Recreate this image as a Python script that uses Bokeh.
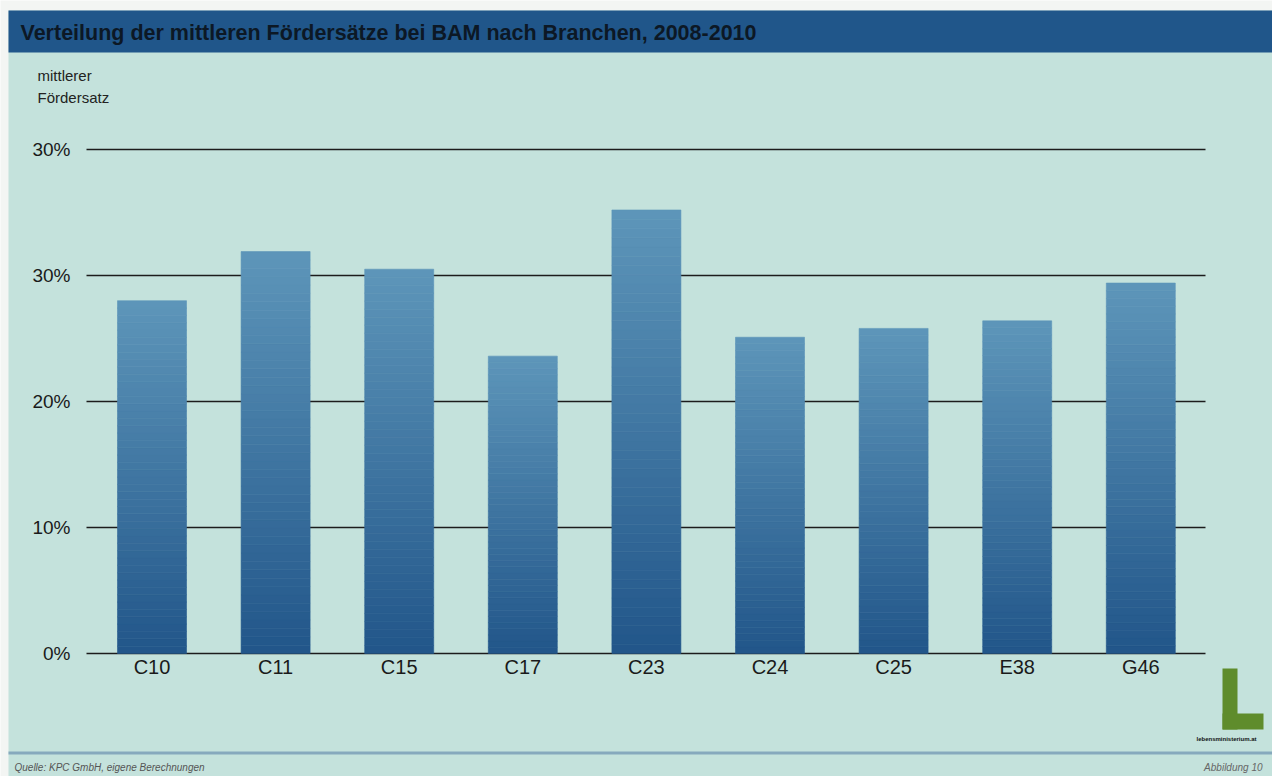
import numpy as np
from bokeh.plotting import figure
from bokeh.models import Range1d, Label, BoxAnnotation, ColumnDataSource
from bokeh.core.properties import value
from bokeh.embed import file_html
from bokeh.resources import INLINE

# ---- data ----
categories = ["C10", "C11", "C15", "C17", "C23", "C24", "C25", "E38", "G46"]
values = [28.0, 31.9, 30.5, 23.6, 35.2, 25.1, 25.8, 26.4, 29.4]
tick_values = [0, 10, 20, 30, 40]
tick_labels = ["0%", "10%", "20%", "30%", "30%"]
title_text = "Verteilung der mittleren Fördersätze bei BAM nach Branchen, 2008-2010"
ylabel_lines = ["mittlerer", "Fördersatz"]
source_text = "Quelle: KPC GmbH, eigene Berechnungen"
figure_text = "Abbildung 10"
logo_text = "lebensministerium.at"

# ---- style / layout ----
BG = "#c4e2dc"
PAGE = "#f3f5f3"
BAR_TOP = np.array([0x5e, 0x96, 0xba])
BAR_BOTTOM = np.array([0x22, 0x56, 0x8a])
FONT = "Liberation Sans"
N_SLICES = 48
W, H = 1272, 776
CX0, DX = 151.5, 123.6       # canvas x of first category centre, spacing
CY0, PPU = 653.0, 12.6       # canvas y of 0 %, pixels per percentage point

p = figure(width=W, height=H, output_backend="svg", toolbar_location=None,
           x_range=Range1d(-CX0 / DX, (W - CX0) / DX),
           y_range=Range1d(-(H - CY0) / PPU, CY0 / PPU), min_border=0)
p.axis.visible = False
p.grid.visible = False
p.background_fill_color = PAGE
p.border_fill_color = PAGE
p.outline_line_color = None


def dx(cx):
    return (cx - CX0) / DX


def dy(cy):
    return (CY0 - cy) / PPU


def box(l, r, t, b, color, level="annotation"):
    p.add_layout(BoxAnnotation(left=l, right=r, top=H - t, bottom=H - b,
                               left_units="screen", right_units="screen",
                               top_units="screen", bottom_units="screen",
                               fill_color=color, fill_alpha=1, line_color=None,
                               level=level))


def label(cx, cy, text, size, color, style="normal", align="left"):
    p.add_layout(Label(x=cx, y=H - cy, x_units="screen", y_units="screen", text=text,
                       text_font=FONT, text_font_style=style, text_font_size=size,
                       text_color=color, text_baseline="middle", text_align=align))


# page panel, title bar, footer rule
box(8, W, 10, H, BG, level="image")
box(8, W, 10, 52, "#20568a")
box(8, W, 751, 754, "#86a9bd")

idx = list(range(len(categories)))

# horizontal grid lines at the ticks
p.segment(x0=dx(86), x1=dx(1205), y0=tick_values, y1=tick_values,
          line_color="#1c1c1c", line_width=1.6)

# gradient bars: stacked slices computed from the values
xs, bots, tops, cols = [], [], [], []
for i_cat, v in zip(idx, values):
    for i in range(N_SLICES):
        t = (i + 0.5) / N_SLICES
        c = (BAR_BOTTOM + (BAR_TOP - BAR_BOTTOM) * t).astype(int)
        xs.append(i_cat)
        bots.append(v * i / N_SLICES)
        tops.append(v * (i + 1) / N_SLICES)
        cols.append("#%02x%02x%02x" % tuple(c))
src = ColumnDataSource(dict(x=xs, bottom=bots, top=tops, color=cols))
p.vbar(x="x", bottom="bottom", top="top", width=69 / DX, source=src,
       fill_color="color", line_color="color", line_width=0.6)

# tick labels
p.text(x=[dx(70)] * len(tick_values), y=tick_values, text=tick_labels,
       text_font=value(FONT), text_font_size="19px", text_color="#1a1a1a",
       text_align="right", text_baseline="middle")
p.text(x=idx, y=[dy(666)] * len(idx), text=categories,
       text_font=value(FONT), text_font_size="20px", text_color="#1a1a1a",
       text_align="center", text_baseline="middle")

# texts
label(20, 32, title_text, "21.5px", "#0c1825", style="bold")
for i, line in enumerate(ylabel_lines):
    label(37, 75 + 22 * i, line, "15px", "#222222")
label(14, 767, source_text, "10px", "#555555", style="italic")
label(1262, 767, figure_text, "10px", "#666666", style="italic", align="right")

# logo
box(1222, 1237, 668, 729, "#5f8c2c")
box(1222, 1263, 713, 729, "#5f8c2c")
label(1226, 738, logo_text, "6px", "#111111", style="bold", align="center")

open("out.html", "w").write(file_html(p, INLINE))
